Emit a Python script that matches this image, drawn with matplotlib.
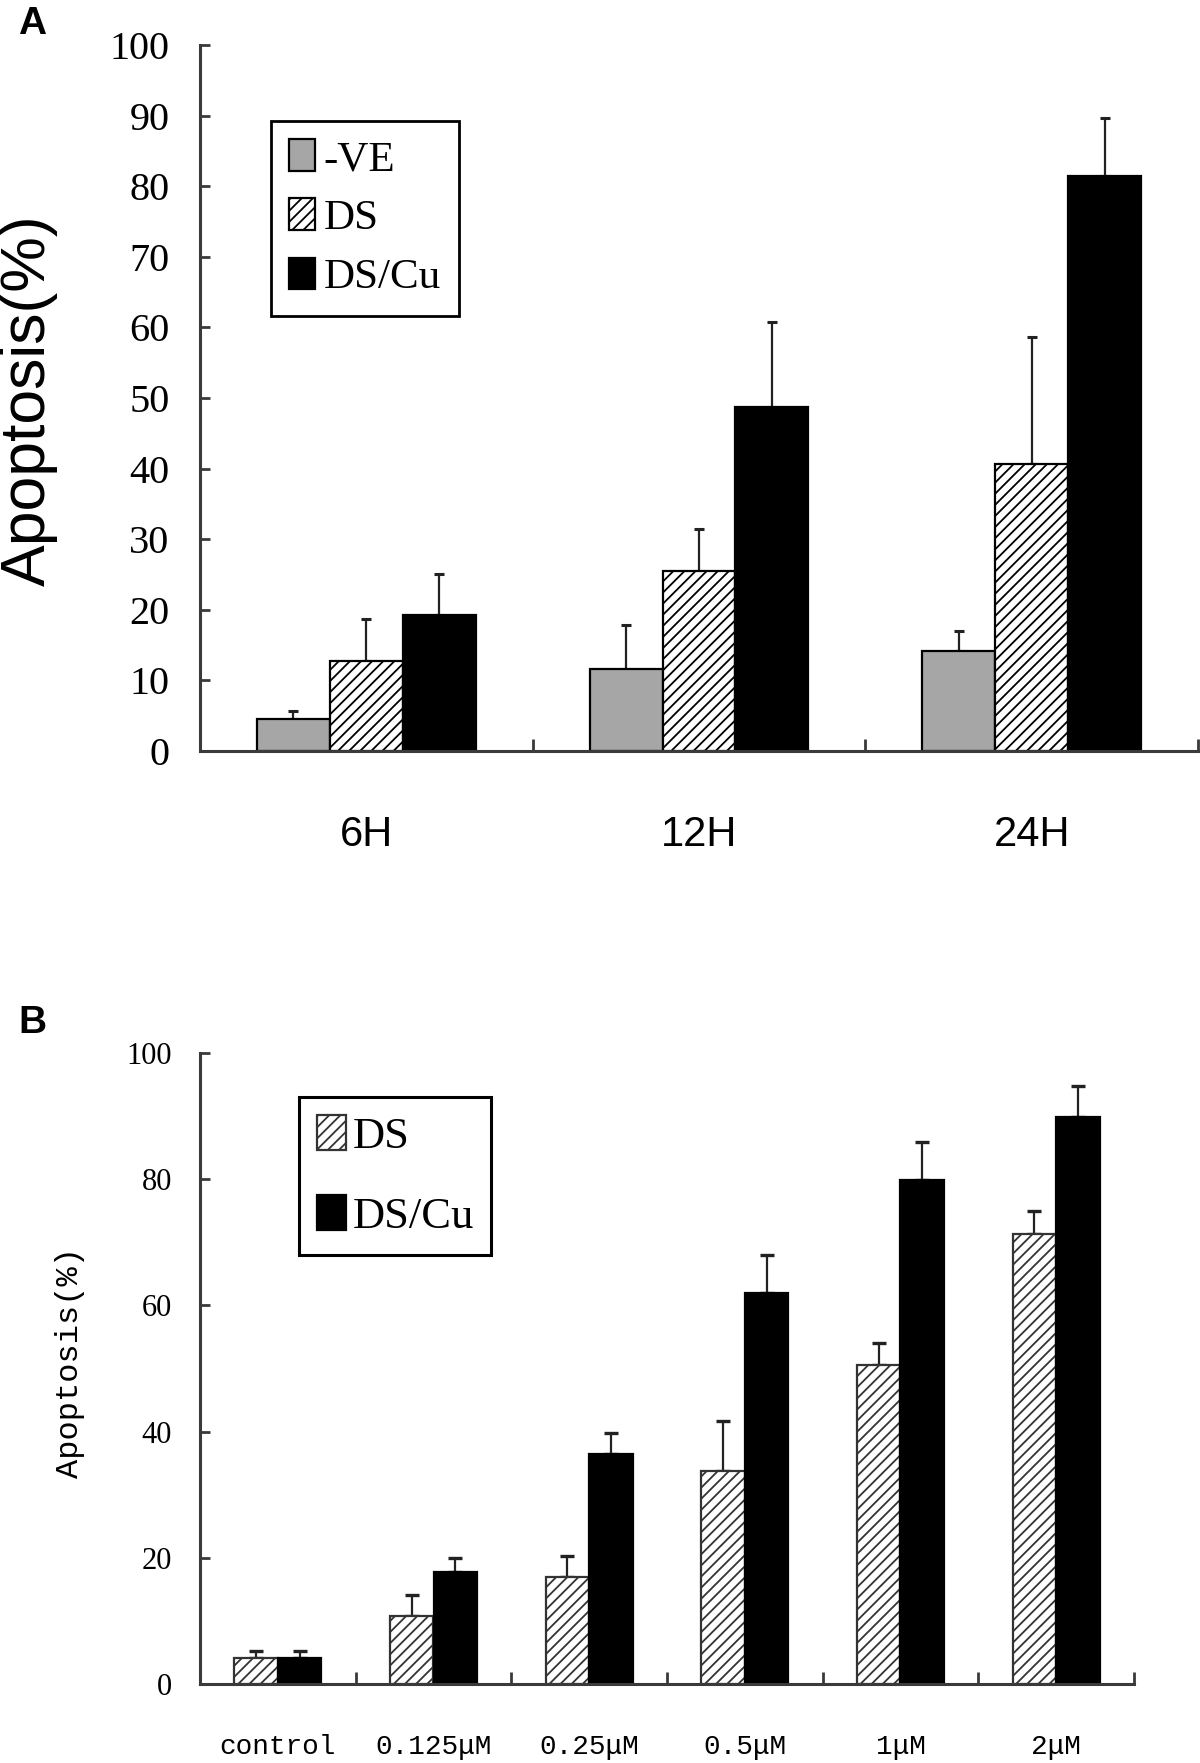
import matplotlib
matplotlib.use("Agg")
import matplotlib.pyplot as plt
import numpy as np

# ---------------- data ----------------
a_groups = ["6H", "12H", "24H"]
a_series = ["-VE", "DS", "DS/Cu"]
a_neg = [4.5, 11.6, 14.2]
a_neg_err = [1.1, 6.2, 2.8]
a_ds = [12.8, 25.5, 40.7]
a_ds_err = [5.9, 5.9, 18.0]
a_dscu = [19.2, 48.7, 81.5]
a_dscu_err = [5.9, 12.1, 8.2]

b_groups = ["control", "0.125μM", "0.25μM", "0.5μM", "1μM", "2μM"]
b_series = ["DS", "DS/Cu"]
b_ds = [4.1, 10.7, 16.9, 33.7, 50.6, 71.3]
b_ds_err = [1.1, 3.4, 3.4, 8.0, 3.4, 3.7]
b_dscu = [4.1, 17.8, 36.5, 62.0, 79.9, 89.8]
b_dscu_err = [1.1, 2.2, 3.2, 6.0, 6.0, 4.9]

a_yticks = [0, 10, 20, 30, 40, 50, 60, 70, 80, 90, 100]
b_yticks = [0, 20, 40, 60, 80, 100]

SERIF = "Liberation Serif"
SANS = "Liberation Sans"
MONO = "Liberation Mono"

W, H = 1200, 1763
plt.rcParams["hatch.linewidth"] = 1.3
fig = plt.figure(figsize=(W / 100, H / 100), dpi=100)


def style_axes(ax, tick_fs, pad):
    for s in ("top", "right"):
        ax.spines[s].set_visible(False)
    for s in ("left", "bottom"):
        ax.spines[s].set_color("#3a3a3a")
        ax.spines[s].set_linewidth(2.2)
    ax.tick_params(axis="y", direction="in", length=7, width=2, color="#3a3a3a",
                   pad=pad, labelsize=tick_fs)
    for lab in ax.get_yticklabels():
        lab.set_fontfamily(SERIF)
    ax.tick_params(axis="x", which="major", length=0)
    ax.tick_params(axis="x", which="minor", direction="in", length=9, width=2,
                   color="#3a3a3a")


# ---------------- Panel A ----------------
axA = fig.add_axes([200 / W, 1 - 751 / H, 998 / W, 706 / H])
xa = np.arange(len(a_groups))
wa = 0.219
vals_a = [a_neg, a_ds, a_dscu]
errs_a = [a_neg_err, a_ds_err, a_dscu_err]
styles_a = [dict(color="#a6a6a6", edgecolor="black", hatch=None),
            dict(color="white", edgecolor="black", hatch="///"),
            dict(color="black", edgecolor="black", hatch=None)]
errA_kw = dict(fmt="none", ecolor="#222222", elinewidth=1.6, capsize=3.5, capthick=2.2)
for i, (v, e, st, name) in enumerate(zip(vals_a, errs_a, styles_a, a_series)):
    pos = xa + (i - 1) * wa
    axA.bar(pos, v, width=wa, color=st["color"], edgecolor=st["edgecolor"],
            hatch=st["hatch"], linewidth=1.6, label=name, zorder=2)
    axA.errorbar(pos, v, yerr=[np.zeros(len(e)), e], zorder=1, **errA_kw)

axA.set_xlim(-0.5, 2.5)
axA.set_ylim(0, 100)
axA.set_yticks(a_yticks)
axA.set_xticks(xa)
axA.set_xticklabels(a_groups, fontfamily=SANS, fontsize=30)
axA.set_xticks([0.5, 1.5, 2.5], minor=True)
style_axes(axA, 29, 22)
axA.tick_params(axis="x", which="major", pad=46)
axA.set_ylabel("Apoptosis(%)", fontfamily=SANS, fontsize=45)
axA.yaxis.label.set_verticalalignment("center")
axA.yaxis.set_label_coords(-0.172, 0.497)
legA = axA.legend(loc="upper left", bbox_to_anchor=(0.071, 0.892),
                  prop=dict(family=SERIF, size=31), frameon=True, fancybox=False,
                  edgecolor="black", framealpha=1, handlelength=0.6, handleheight=0.75,
                  handletextpad=0.2, labelspacing=0.45, borderpad=0.42,
                  borderaxespad=0)
legA.get_frame().set_linewidth(2)

# ---------------- Panel B ----------------
axB = fig.add_axes([200 / W, 1 - 1684 / H, 934 / W, 631 / H])
xb = np.arange(len(b_groups))
wb = 0.28
errB_kw = dict(fmt="none", ecolor="#222222", elinewidth=1.6, capsize=5, capthick=2.4)
axB.bar(xb - wb / 2, b_ds, width=wb, color="white", edgecolor="#333333", hatch="///",
        linewidth=1.6, label=b_series[0], zorder=2)
axB.bar(xb + wb / 2, b_dscu, width=wb, color="black", edgecolor="black",
        linewidth=1.6, label=b_series[1], zorder=2)
axB.errorbar(xb - wb / 2, b_ds, yerr=[np.zeros(len(b_ds)), b_ds_err], zorder=1, **errB_kw)
axB.errorbar(xb + wb / 2, b_dscu, yerr=[np.zeros(len(b_dscu)), b_dscu_err], zorder=1, **errB_kw)

axB.set_xlim(-0.5, 5.5)
axB.set_ylim(0, 100)
axB.set_yticks(b_yticks)
axB.set_xticks(xb)
axB.set_xticklabels(b_groups, fontfamily=MONO, fontsize=20)
axB.set_xticks(np.arange(0.5, 6.0, 1.0), minor=True)
style_axes(axB, 22, 20)
axB.tick_params(axis="x", which="major", pad=36)
axB.set_ylabel("Apoptosis(%)", fontfamily=MONO, fontsize=23)
axB.yaxis.label.set_verticalalignment("center")
axB.yaxis.set_label_coords(-0.139, 0.51)
legB = axB.legend(loc="upper left", bbox_to_anchor=(0.106, 0.930),
                  prop=dict(family=SERIF, size=32), frameon=True, fancybox=False,
                  edgecolor="black", framealpha=1, handlelength=0.65, handleheight=0.85,
                  handletextpad=0.15, labelspacing=0.85, borderpad=0.4,
                  borderaxespad=0)
legB.get_frame().set_linewidth(2.2)

# panel letters
fig.text(18 / W, 1 - 6 / H, "A", fontfamily=SANS, fontweight="bold", fontsize=28,
         va="top", ha="left")
fig.text(18 / W, 1 - 1005 / H, "B", fontfamily=SANS, fontweight="bold", fontsize=28,
         va="top", ha="left")

fig.savefig("out.png", dpi=100)
